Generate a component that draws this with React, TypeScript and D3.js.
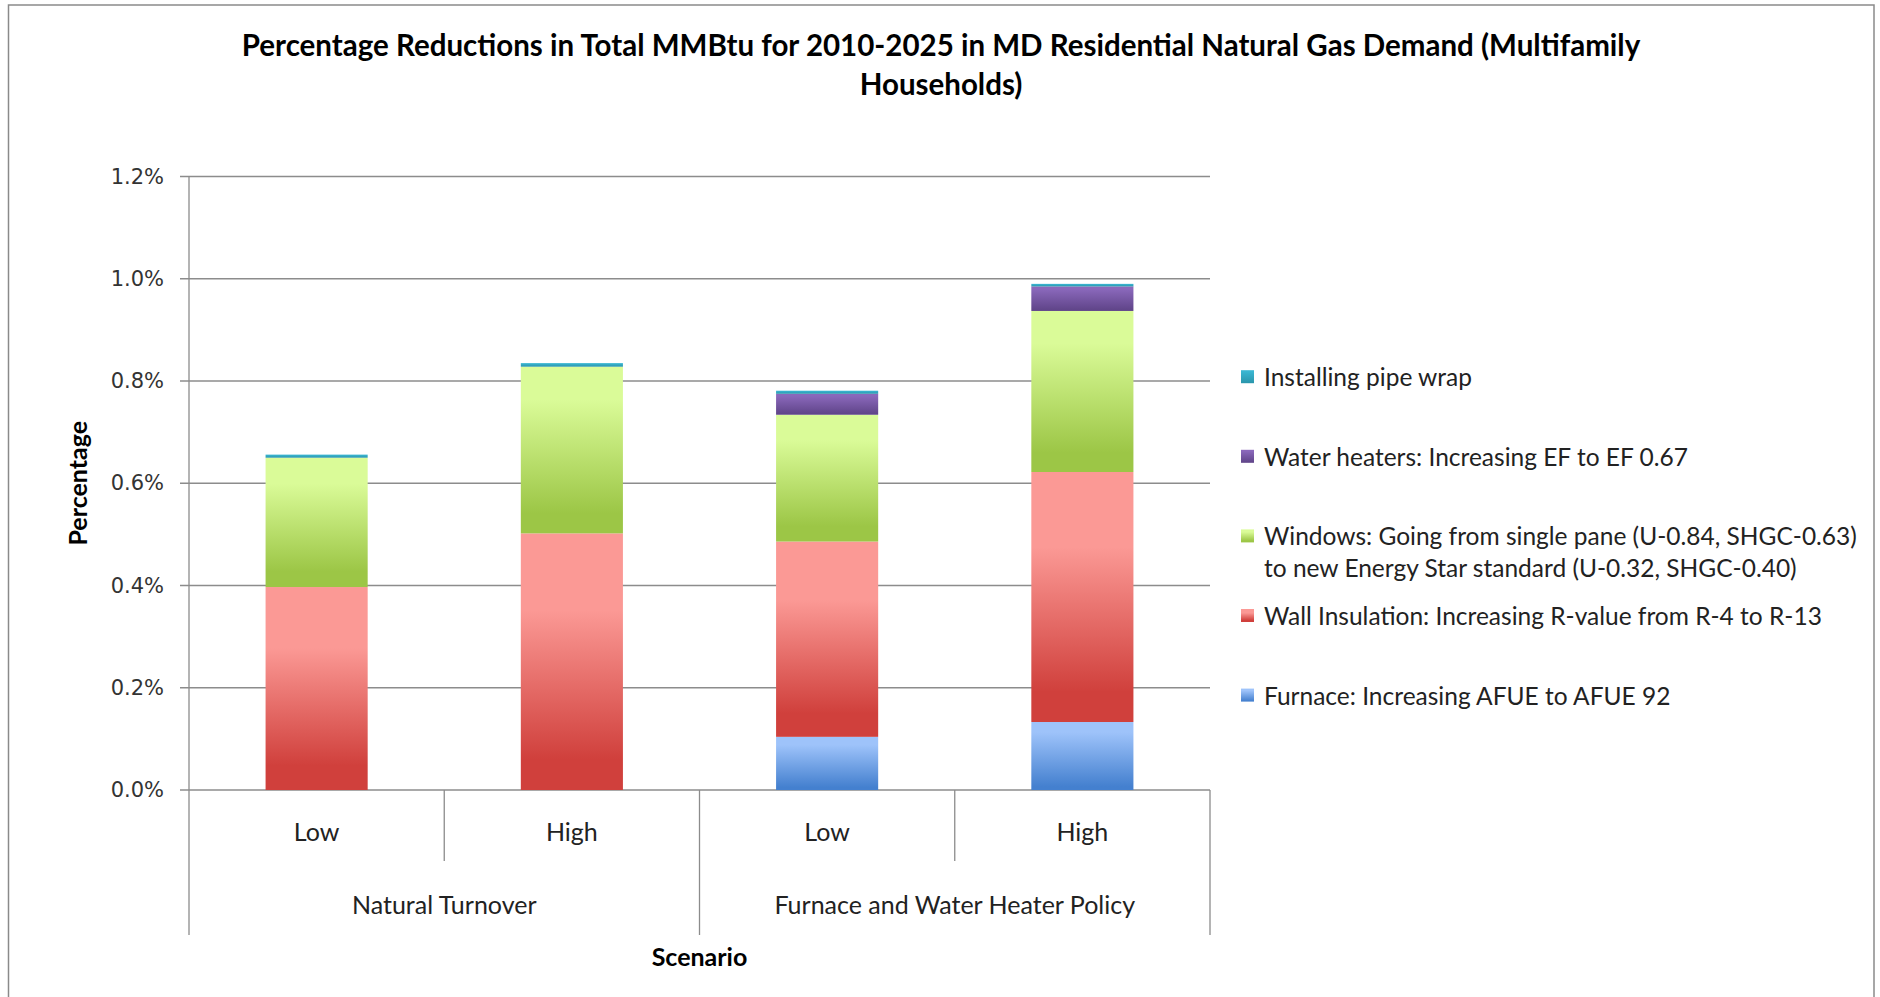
import React from "react";
import * as d3 from "d3";

const categories = ["Low", "High", "Low", "High"];
const groups = ["Natural Turnover", "Natural Turnover", "Furnace and Water Heater Policy", "Furnace and Water Heater Policy"];
const groupNames = ["Natural Turnover", "Furnace and Water Heater Policy"];

// values in percent, stacked bottom -> top
const furnace = [0, 0, 0.104, 0.133];
const wallInsulation = [0.397, 0.502, 0.382, 0.489];
const windows = [0.253, 0.326, 0.248, 0.315];
const waterHeaters = [0, 0, 0.041, 0.048];
const pipeWrap = [0.006, 0.007, 0.006, 0.005];

const yTicks = [0, 0.2, 0.4, 0.6, 0.8, 1.0, 1.2];

const seriesNames = [
  "Furnace: Increasing AFUE to AFUE 92",
  "Wall Insulation: Increasing R-value from R-4 to R-13",
  "Windows: Going from single pane (U-0.84, SHGC-0.63)|to new Energy Star standard (U-0.32, SHGC-0.40)",
  "Water heaters: Increasing EF to EF 0.67",
  "Installing pipe wrap",
];
const seriesValues = [furnace, wallInsulation, windows, waterHeaters, pipeWrap];
const seriesColors = [
  { light: "#9ec3fa", dark: "#4480cf", s1: 0.15, s2: 0.95 },
  { light: "#fb9995", dark: "#d0403c", s1: 0.3, s2: 0.88 },
  { light: "#dafb98", dark: "#9cc646", s1: 0.2, s2: 0.88 },
  { light: "#8a68bb", dark: "#5e4387", s1: 0.1, s2: 1 },
  { light: "#3ab6d2", dark: "#2a95ab", s1: 0.1, s2: 1 },
];

const FONT = "Lato, 'Open Sans', sans-serif";

export default function App() {
  const W = 1880, H = 997;
  const x0 = 189, x1 = 1210, yBase = 790, yTop = 176.5;
  const keys = categories.map((c, i) => `${i}`);
  const x = d3.scaleBand().domain(keys).range([x0, x1]).paddingInner(0.6).paddingOuter(0.3);
  const y = d3.scaleLinear().domain([0, 1.2]).range([yBase, yTop]);

  const rows = categories.map((c, i) => {
    const r: any = { key: `${i}` };
    seriesValues.forEach((s, j) => (r[`s${j}`] = s[i]));
    return r;
  });
  const stack = d3.stack().keys(seriesValues.map((_, j) => `s${j}`));
  const stacked = stack(rows);

  const gridColor = "#8c8c8c";
  const legendX = 1241, legendTextX = 1264, legendY0 = 376.7, legendStep = 79.6, lineH = 31.6;
  const legendOrder = [4, 3, 2, 1, 0];

  const groupCenters = groupNames.map((g) => {
    const idx = groups.map((gg, i) => (gg === g ? i : -1)).filter((i) => i >= 0);
    return d3.mean(idx, (i) => (x(`${i}`) as number) + x.bandwidth() / 2) as number;
  });

  return (
    <svg width={W} height={H} style={{ position: "absolute", left: 0, top: 0, display: "block", background: "#fff" }}>
      <defs>
        {seriesColors.map((c, j) => (
          <linearGradient key={j} id={`g${j}`} x1="0" y1="0" x2="0" y2="1">
            <stop offset="0" stopColor={c.light} />
            <stop offset={c.s1} stopColor={c.light} />
            <stop offset={c.s2} stopColor={c.dark} />
            <stop offset="1" stopColor={c.dark} />
          </linearGradient>
        ))}
      </defs>
      <rect x={8.5} y={5} width={1865.5} height={1010} fill="#fff" stroke="#8a8a8a" strokeWidth={1.5} />

      <text x={941} y={44} textAnchor="middle" dominantBaseline="central" fontFamily={FONT} fontWeight="bold" fontSize={29.5} fill="#000">
        Percentage Reductions in Total MMBtu for 2010-2025 in MD Residential Natural Gas Demand (Multifamily
      </text>
      <text x={941} y={83} textAnchor="middle" dominantBaseline="central" fontFamily={FONT} fontWeight="bold" fontSize={29.5} fill="#000">
        Households)
      </text>

      {yTicks.map((t) => (
        <g key={t}>
          <line x1={180} x2={x1} y1={y(t)} y2={y(t)} stroke={gridColor} strokeWidth={1.3} />
          <text x={164} y={y(t)} textAnchor="end" dominantBaseline="central" fontFamily="'DejaVu Sans', sans-serif" fontSize={21} fill="#333">
            {d3.format(".1f")(t)}%
          </text>
        </g>
      ))}

      {stacked.map((layer, j) =>
        layer.map((d, i) => {
          const h = y(d[0]) - y(d[1]);
          if (h <= 0) return null;
          return (
            <rect key={`${j}-${i}`} x={x(`${i}`)} y={y(d[1])} width={x.bandwidth()} height={h} fill={`url(#g${j})`} />
          );
        })
      )}

      <line x1={x0} x2={x0} y1={yTop} y2={935} stroke={gridColor} strokeWidth={1.3} />
      {d3.range(1, categories.length + 1).map((i) => {
        const xx = x0 + (i * (x1 - x0)) / categories.length;
        const isGroupEnd = i === categories.length || groups[i] !== groups[i - 1];
        return <line key={i} x1={xx} x2={xx} y1={yBase} y2={isGroupEnd ? 935 : 861} stroke={gridColor} strokeWidth={1.3} />;
      })}

      {categories.map((c, i) => (
        <text key={i} x={(x(`${i}`) as number) + x.bandwidth() / 2} y={831} textAnchor="middle" dominantBaseline="central" fontFamily={FONT} fontSize={25} fill="#222">
          {c}
        </text>
      ))}
      {groupNames.map((g, k) => (
        <text key={g} x={groupCenters[k]} y={904} textAnchor="middle" dominantBaseline="central" fontFamily={FONT} fontSize={25} fill="#222">
          {g}
        </text>
      ))}

      <text x={(x0 + x1) / 2} y={956} textAnchor="middle" dominantBaseline="central" fontFamily={FONT} fontWeight="bold" fontSize={25} fill="#000">
        Scenario
      </text>
      <text transform={`translate(77,${(yBase + yTop) / 2}) rotate(-90)`} textAnchor="middle" dominantBaseline="central" fontFamily={FONT} fontWeight="bold" fontSize={25} fill="#000">
        Percentage
      </text>

      {legendOrder.map((j, k) => {
        const ly = legendY0 + k * legendStep;
        const lines = seriesNames[j].split("|");
        return (
          <g key={j}>
            <rect x={legendX} y={ly - 6.5} width={13} height={13} fill={`url(#g${j})`} />
            {lines.map((ln, li) => (
              <text key={li} x={legendTextX} y={ly + li * lineH} dominantBaseline="central" fontFamily={FONT} fontSize={24.5} fill="#222">
                {ln}
              </text>
            ))}
          </g>
        );
      })}
    </svg>
  );
}
